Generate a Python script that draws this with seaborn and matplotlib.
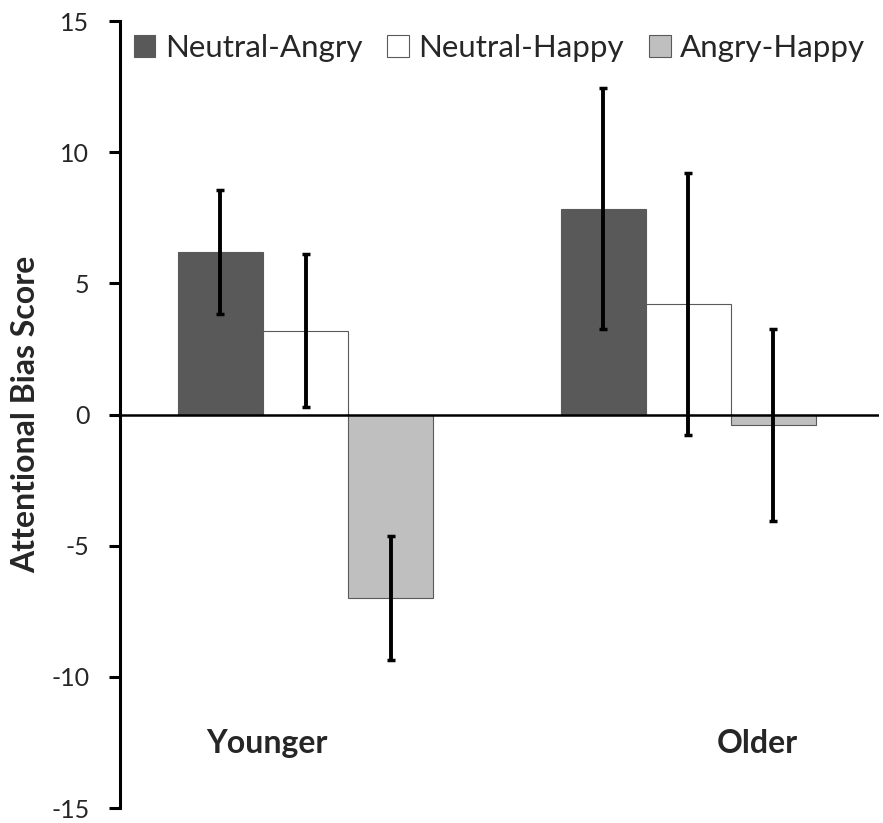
import matplotlib
matplotlib.use("Agg")
import matplotlib.pyplot as plt
import seaborn as sns
import pandas as pd
import numpy as np

# Attentional bias scores by age group and face-pair condition
groups = ["Younger", "Older"]
conditions = ["Neutral-Angry", "Neutral-Happy", "Angry-Happy"]
younger_means = [6.2, 3.2, -7.0]
older_means = [7.85, 4.2, -0.4]
younger_err = [2.37, 2.93, 2.37]
older_err = [4.6, 5.0, 3.65]
yticks = [-15, -10, -5, 0, 5, 10, 15]

bar_colors = ["#595959", "#FFFFFF", "#BFBFBF"]

df = pd.DataFrame({
    "group": np.repeat(groups, len(conditions)),
    "condition": conditions * len(groups),
    "score": younger_means + older_means,
    "err": younger_err + older_err,
})

sns.set_style("white")
plt.rcParams["font.family"] = ["Lato", "DejaVu Sans"]

fig = plt.figure(figsize=(8.83, 8.23), dpi=100)
ax = fig.add_axes([120 / 883, 1 - 808 / 823, (879 - 120) / 883, (808 - 21) / 823])

sns.barplot(
    data=df, x="group", y="score", hue="condition",
    order=groups, hue_order=conditions, palette=bar_colors,
    errorbar=None, width=0.667, edgecolor="#5a5a5a", linewidth=0.8,
    saturation=1, ax=ax,
)

# error bars at the centre of each drawn bar
for container, cond in zip(ax.containers, conditions):
    sub = df[df["condition"] == cond].set_index("group").loc[groups]
    xs = [p.get_x() + p.get_width() / 2 for p in container.patches]
    ax.errorbar(xs, sub["score"].values, yerr=sub["err"].values, fmt="none",
                ecolor="black", elinewidth=2.8, capsize=3.2, capthick=2.5, zorder=5)

ax.axhline(0, color="black", linewidth=1.8, zorder=4)

ax.set_ylim(-15, 15)
ax.set_xlim(-0.485, 1.499)
ax.set_yticks(yticks)
ax.set_yticklabels([str(t) for t in yticks], fontsize=18)
ax.set_xticks([])
ax.set_xlabel("")
ax.set_ylabel("Attentional Bias Score", fontsize=23, fontweight="bold")
ax.yaxis.set_label_coords(-80 / 759, 0.5)

for side in ["top", "right", "bottom"]:
    ax.spines[side].set_visible(False)
ax.spines["left"].set_linewidth(2.2)
ax.spines["left"].set_color("black")
ax.tick_params(axis="y", direction="out", length=8, width=2.2, color="black", left=True, pad=14)

# group labels placed inside the plot area
ax.text(-0.10, -12.55, "Younger", fontsize=23, fontweight="bold", ha="center", va="center")
ax.text(1.18, -12.55, "Older", fontsize=23, fontweight="bold", ha="center", va="center")

leg = ax.legend(
    loc="upper center", bbox_to_anchor=(0.5, 1.0), ncol=3, frameon=False,
    fontsize=22.5, handlelength=0.7, handleheight=0.7, handletextpad=0.3,
    columnspacing=0.8, borderaxespad=0,
)
for h in leg.legend_handles:
    h.set_edgecolor("#5a5a5a")
    h.set_linewidth(0.8)

fig.savefig("out.png", dpi=100)
